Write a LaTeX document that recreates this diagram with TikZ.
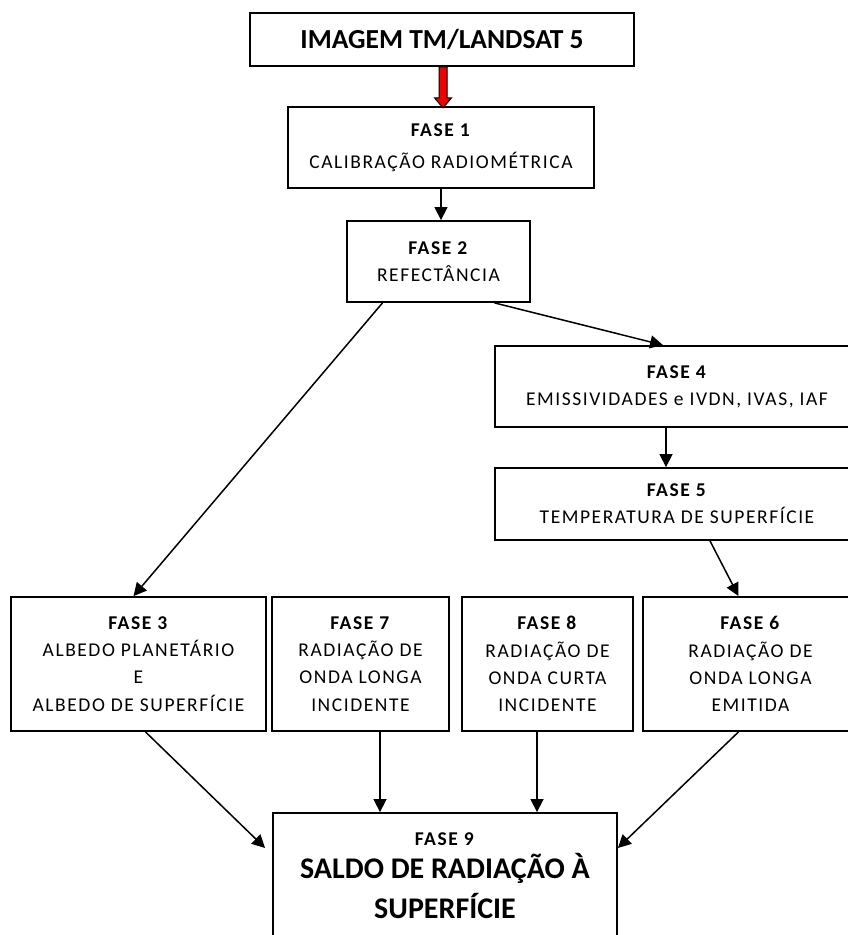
\documentclass[tikz,border=0pt]{standalone}
\usepackage{fontspec}
\setmainfont{Carlito}
\newfontfamily\srsbody[LetterSpace=8]{Carlito}
\usetikzlibrary{arrows.meta}
\definecolor{srsInk}{HTML}{000000}
\definecolor{srsRed}{HTML}{F00000}
\tikzset{
  srs box/.style 2 args={draw=srsInk, line width=1.8pt, align=center, inner sep=0pt,
    minimum width=#1, minimum height=#2, font=\srsbody\fontsize{19.5}{27.3}\selectfont},
  srs link/.style={draw=srsInk, line width=1.5pt, -{Triangle[length=13pt, width=13pt]}},
  srs feed/.style={draw=srsInk, fill=srsRed, line width=1pt, line join=miter},
  srs big/.style={font=\fontsize{27.5}{37}\selectfont\bfseries},
}
\newcommand{\srsheadline}{\rmfamily\fontsize{30}{36}\selectfont\bfseries}

\begin{document}
\begin{tikzpicture}[x=1pt, y=-1pt]
  \useasboundingbox (0,0) rectangle (848,935);
  % ----- source image and first phases -----
  \node[srs box={384pt}{53pt}, srs big] (img) at (442,39.5) {IMAGEM TM/LANDSAT 5};
  \node[srs box={306pt}{81pt}] (f1) at (441,147.5) {\textbf{FASE 1}\\[5pt]CALIBRAÇÃO RADIOMÉTRICA};
  \draw[srs feed] ([xshift=-3pt]img.south) -- ++(0,31) -- ++(-4.5,0) -- ++(8.5,10)
    -- ++(8.5,-10) -- ++(-4.5,0) -- ++(0,-31) -- cycle;
  \node[srs box={183pt}{81pt}] (f2) at (438.5,261.5) {\textbf{FASE 2}\\REFECTÂNCIA};
  % ----- right branch -----
  \node[srs box={364pt}{81pt}] (f4) at (677,386.5) {\textbf{FASE 4}\\EMISSIVIDADES e IVDN, IVAS, IAF};
  \node[srs box={364pt}{72pt}] (f5) at (677,504) {\textbf{FASE 5}\\TEMPERATURA DE SUPERFÍCIE};
  % ----- row of components -----
  \node[srs box={255pt}{134pt}] (f3) at (138.5,664) {\textbf{FASE 3}\\ALBEDO PLANETÁRIO\\E\\ALBEDO DE SUPERFÍCIE};
  \node[srs box={177pt}{134pt}] (f7) at (360.5,664) {\textbf{FASE 7}\\RADIAÇÃO DE\\ONDA LONGA\\INCIDENTE};
  \node[srs box={171pt}{134pt}] (f8) at (547.5,664) {\textbf{FASE 8}\\RADIAÇÃO DE\\ONDA CURTA\\INCIDENTE};
  \node[srs box={215pt}{134pt}] (f6) at (750.5,664) {\textbf{FASE 6}\\RADIAÇÃO DE\\ONDA LONGA\\EMITIDA};
  % ----- net radiation (box runs past the lower edge) -----
  \node[srs box={344pt}{125pt}] (f9) at (445,875.5)
    {\textbf{FASE 9}\\[6pt]{\srsheadline SALDO DE RADIAÇÃO À}\\[8pt]{\srsheadline SUPERFÍCIE}};
  % ----- connectors -----
  \draw[srs link] (f1.south) -- (f1.south |- f2.north);
  \draw[srs link] ([xshift=56pt]f2.south) -- ([xshift=-14pt]f4.north);
  \draw[srs link] ([xshift=-56pt]f2.south) -- ([xshift=-5pt]f3.north);
  \draw[srs link] ([xshift=-11pt]f4.south) -- ([xshift=-11pt]f5.north);
  \draw[srs link] ([xshift=33pt]f5.south) -- ([xshift=-12pt]f6.north);
  \draw[srs link] ([xshift=7pt]f3.south) -- ([xshift=-7pt, yshift=27.5pt]f9.west);
  \draw[srs link] ([xshift=19.5pt]f7.south) -- ([xshift=-65pt]f9.north);
  \draw[srs link] ([xshift=-10.5pt]f8.south) -- ([xshift=92pt]f9.north);
  \draw[srs link] ([xshift=-12pt]f6.south) -- ([yshift=27.5pt]f9.east);
\end{tikzpicture}
\end{document}
